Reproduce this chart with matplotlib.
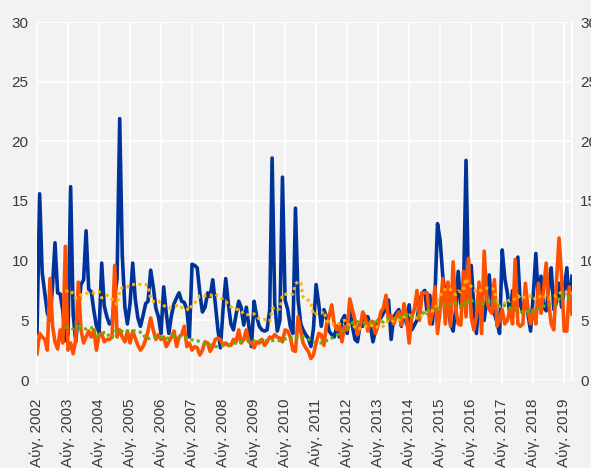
import numpy as np
import pandas as pd
import matplotlib
matplotlib.use("Agg")
import matplotlib.pyplot as plt

# monthly values, Aug 2002 - Nov 2019
start_month = "2002-08-01"

blue_vals = [
    3.9, 15.6, 9.0, 7.3, 5.6, 5.0, 8.0, 11.5, 7.3, 7.2, 5.8, 3.3,
    3.8, 16.2, 5.5, 3.2, 5.8, 8.0, 8.4, 12.5, 7.6, 7.4, 5.8, 4.5,
    4.0, 9.8, 6.2, 5.3, 4.7, 4.8, 7.0, 8.5, 21.9, 10.5, 6.1, 4.7,
    6.4, 9.8, 6.8, 5.2, 4.5, 5.4, 6.4, 6.6, 9.2, 7.8, 6.0, 5.3,
    3.9, 7.8, 5.6, 3.9, 5.4, 6.4, 6.9, 7.3, 6.6, 6.5, 5.9, 3.6,
    9.7, 9.6, 9.4, 7.3, 5.7, 6.1, 7.3, 7.0, 8.4, 6.4, 4.2, 2.7,
    6.0, 8.5, 6.4, 4.7, 4.2, 5.5, 6.6, 6.1, 4.6, 6.1, 4.5, 2.8,
    6.6, 5.3, 4.5, 4.2, 4.1, 4.2, 5.9, 18.6, 6.4, 4.1, 5.0, 17.0,
    6.7, 5.9, 4.5, 3.9, 14.4, 6.7, 4.7, 4.2, 3.8, 3.5, 2.8, 4.3,
    8.0, 6.4, 4.5, 5.9, 5.3, 4.1, 3.8, 3.6, 4.5, 3.6, 5.0, 5.4,
    3.9, 6.0, 4.5, 3.4, 3.2, 4.7, 4.5, 5.3, 5.3, 4.5, 3.2, 4.2,
    5.0, 5.2, 5.6, 6.0, 6.7, 3.4, 5.3, 5.6, 5.9, 4.5, 6.0, 4.7,
    6.3, 4.2, 4.6, 5.0, 6.5, 7.3, 7.5, 5.6, 7.1, 4.7, 7.1, 13.1,
    11.7, 8.7, 7.0, 6.1, 4.7, 4.1, 6.0, 9.1, 6.1, 7.0, 18.4, 7.3,
    9.6, 6.1, 3.9, 7.0, 6.0, 5.0, 7.0, 8.8, 6.1, 5.6, 4.8, 3.9,
    10.9, 8.5, 7.3, 5.3, 7.5, 5.9, 10.3, 6.4, 5.6, 7.3, 5.5, 4.1,
    7.0, 10.6, 6.7, 8.7, 6.1, 5.8, 7.8, 9.4, 5.9, 6.5, 8.1, 6.1,
    7.5, 9.4, 6.1, 8.7,
]

orange_vals = [
    2.2, 3.9, 3.6, 3.4, 2.5, 8.5, 4.5, 3.2, 2.6, 4.2, 3.1, 11.2,
    2.5, 3.1, 2.2, 3.4, 8.2, 4.2, 3.1, 3.6, 4.1, 3.6, 4.2, 2.5,
    3.8, 3.9, 3.2, 3.4, 3.4, 3.6, 9.6, 3.6, 4.2, 3.6, 3.2, 4.1,
    3.1, 4.1, 3.5, 2.9, 2.5, 2.8, 3.4, 4.1, 5.2, 4.2, 3.4, 3.8,
    3.4, 3.6, 2.8, 3.2, 3.6, 4.1, 2.8, 3.6, 3.8, 4.5, 2.8, 3.1,
    2.5, 2.8, 2.7, 2.1, 2.5, 3.2, 3.1, 2.4, 2.8, 3.4, 3.5, 3.4,
    2.9, 3.1, 2.9, 2.9, 3.4, 3.2, 4.2, 3.1, 3.4, 4.2, 3.2, 3.1,
    2.7, 3.2, 3.1, 3.4, 2.9, 3.2, 3.6, 3.5, 3.8, 3.6, 3.5, 3.2,
    4.2, 4.1, 3.6, 2.5, 2.4, 5.3, 4.1, 3.1, 2.7, 2.4, 1.8, 2.1,
    3.1, 3.9, 3.8, 2.9, 4.6, 5.3, 6.3, 4.7, 4.2, 4.7, 3.2, 4.5,
    4.2, 6.8, 5.9, 5.0, 3.8, 4.5, 5.7, 5.3, 4.1, 4.9, 4.9, 3.9,
    4.6, 5.7, 6.0, 7.1, 5.0, 5.4, 4.7, 5.3, 5.7, 4.6, 6.4, 5.3,
    3.1, 5.3, 5.9, 7.5, 5.0, 7.3, 7.3, 7.3, 4.7, 5.6, 7.8, 3.9,
    5.9, 8.5, 4.7, 8.2, 4.5, 9.9, 5.9, 4.7, 4.6, 9.1, 5.3, 10.2,
    5.3, 4.2, 5.3, 8.2, 3.9, 10.8, 6.7, 5.9, 5.6, 8.4, 4.5, 5.0,
    5.9, 4.7, 5.0, 5.9, 4.7, 10.1, 4.7, 4.5, 4.7, 8.1, 5.9, 4.7,
    5.9, 4.7, 8.1, 5.6, 7.5, 9.8, 6.4, 4.7, 4.2, 8.1, 11.9, 8.7,
    4.1, 4.1, 7.8, 5.5,
]

y_ticks = [0, 5, 10, 15, 20, 25, 30]

dates = pd.date_range(start_month, periods=len(blue_vals), freq="MS")
blue = pd.Series(blue_vals, index=dates)
orange = pd.Series(orange_vals, index=dates)

# 12-month moving averages
blue_ma = blue.rolling(12).mean()
orange_ma = orange.rolling(12).mean()

tick_dates = dates[::12]
tick_labels = [f"Αύγ. {d.year}" for d in tick_dates]

bg = "#f2f2f2"
txt = "#3a3a3a"
plt.rcParams["font.family"] = ["Liberation Sans", "DejaVu Sans"]

fig = plt.figure(figsize=(5.91, 4.68), dpi=100, facecolor=bg)
ax = fig.add_axes([37 / 591, 1 - 380 / 468, 535 / 591, 358 / 468])
ax.set_facecolor(bg)

ax.plot(blue.index, blue.values, color="#00339a", lw=2.6, zorder=3,
        solid_joinstyle="round")
ax.plot(orange.index, orange.values, color="#ff5000", lw=2.6, zorder=4,
        solid_joinstyle="round")
ax.plot(blue_ma.index, blue_ma.values, color="#ffb000", lw=2.2,
        dashes=(1, 1.1), dash_capstyle="butt", zorder=5)
ax.plot(orange_ma.index, orange_ma.values, color="#5fb200", lw=2.2,
        dashes=(1, 1.1), dash_capstyle="butt", zorder=6)

ax.set_xlim(dates[0], dates[-1])
ax.set_ylim(0, 30)
ax.set_yticks(y_ticks)
ax.set_xticks(tick_dates)
ax.set_xticklabels(tick_labels, rotation=90, fontsize=11, color=txt)

ax.grid(True, color="white", lw=1.3, zorder=0)
ax.set_axisbelow(True)
for side in ["top", "bottom"]:
    ax.spines[side].set_visible(False)
for side in ["left", "right"]:
    ax.spines[side].set_color("white")
    ax.spines[side].set_linewidth(1.3)

ax.tick_params(axis="x", color="white", length=3.5, width=1.3, pad=10)
ax.tick_params(axis="y", length=0, pad=6, labelsize=11, labelcolor=txt)

# right-hand axis repeats the same scale
ax2 = ax.twinx()
ax2.set_ylim(0, 30)
ax2.set_yticks(y_ticks)
ax2.tick_params(axis="y", length=0, pad=6, labelsize=11, labelcolor=txt)
for s in ax2.spines.values():
    s.set_visible(False)

fig.savefig("out.png", dpi=100, facecolor=bg)
